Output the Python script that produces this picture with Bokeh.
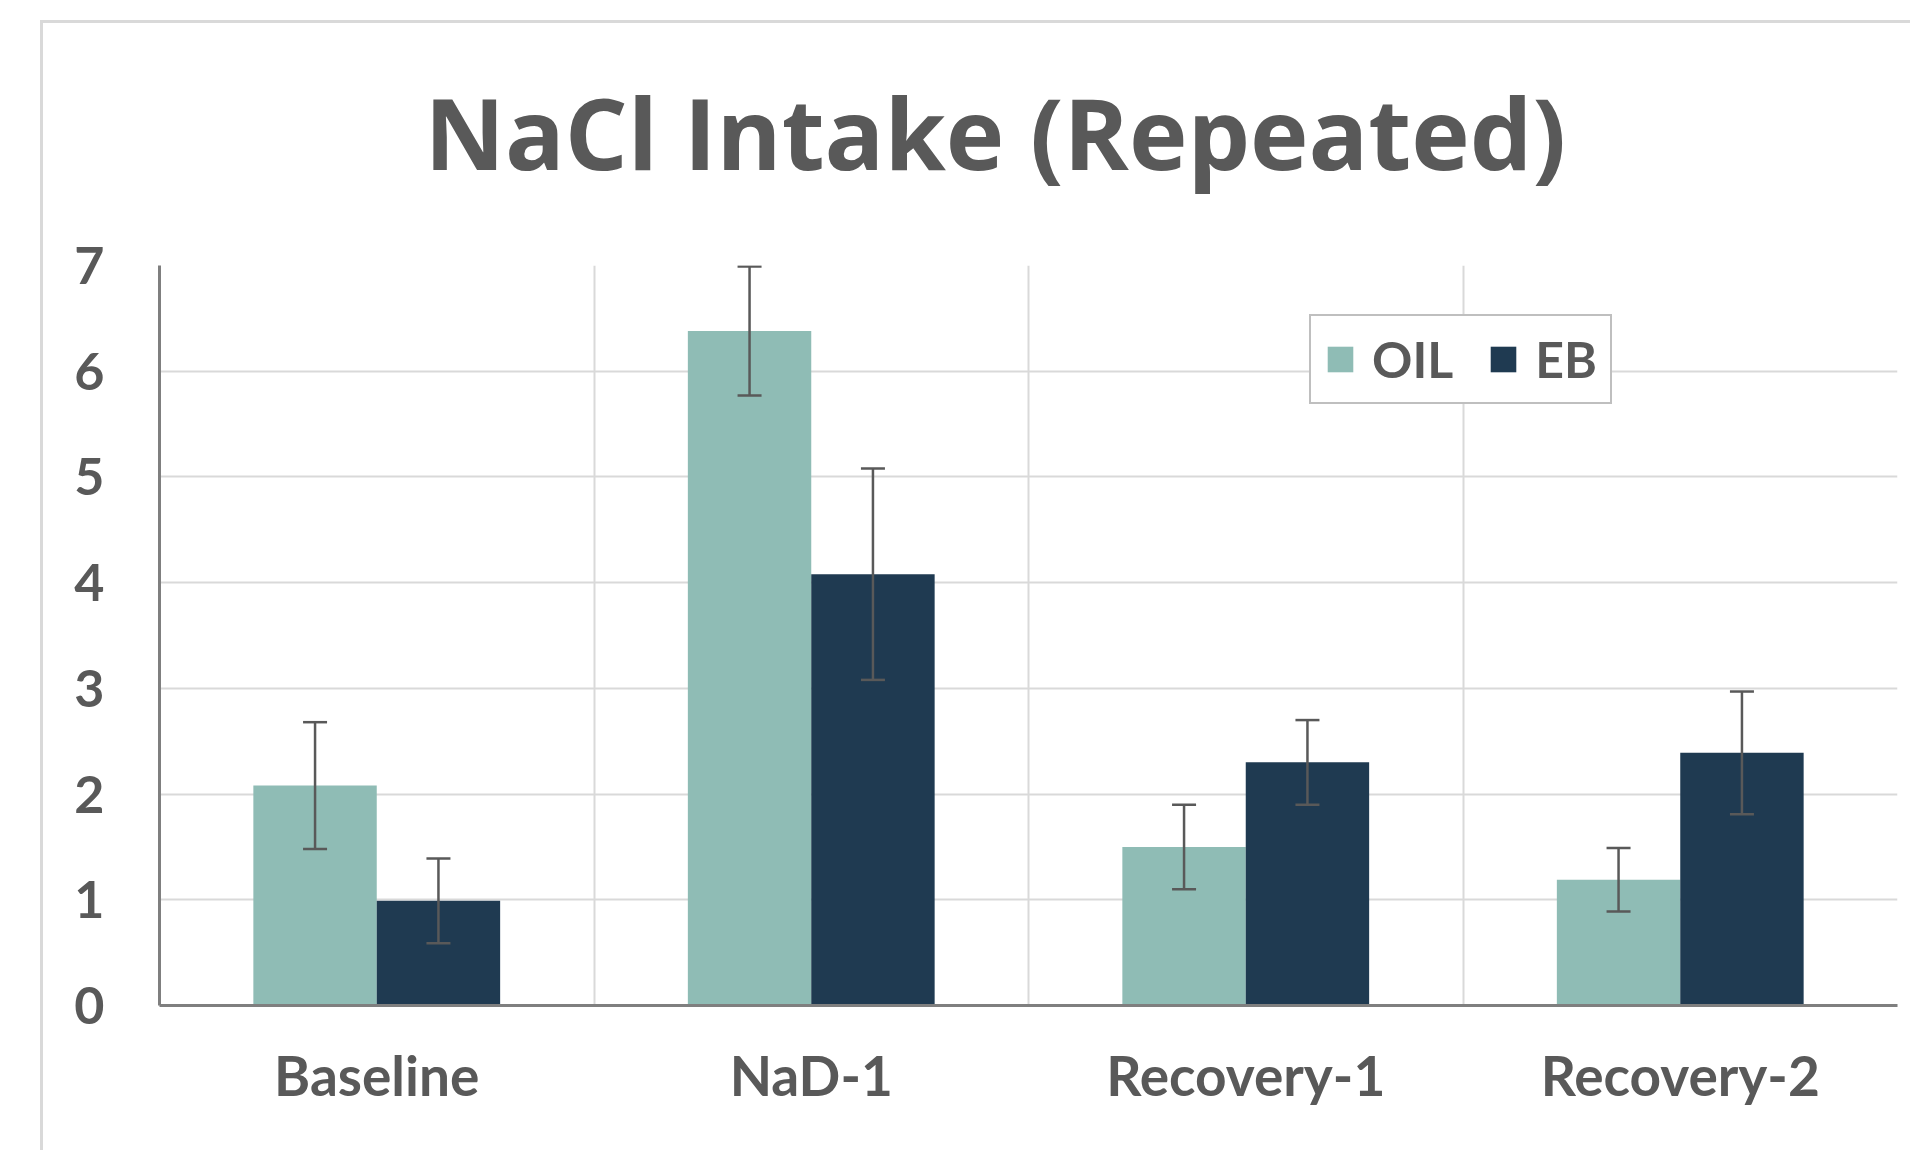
from bokeh.plotting import figure
from bokeh.models import (ColumnDataSource, Range1d, FixedTicker, Title,
                          Whisker, TeeHead, Legend, LegendItem)
from bokeh.embed import file_html
from bokeh.resources import INLINE
import numpy as np

# ---- data ----
categories = ["Baseline", "NaD-1", "Recovery-1", "Recovery-2"]
series_names = ["OIL", "EB"]
oil_mean = [2.08, 6.38, 1.50, 1.19]
oil_err = [0.60, 0.61, 0.40, 0.30]
eb_mean = [0.99, 4.08, 2.30, 2.39]
eb_err = [0.40, 1.00, 0.40, 0.58]
y_ticks = [0, 1, 2, 3, 4, 5, 6, 7]
title_text = "NaCl Intake (Repeated)"

FONT = "Lato"
TITLE_FONT = "Open Sans"
TEXT = "#595959"
OIL_C = "#8FBCB5"
EB_C = "#1F3A51"
GRID = "#d9d9d9"
AXIS = "#7f7f7f"

W, H = 1870, 1130
p = figure(width=W, height=H, output_backend="svg", toolbar_location=None,
           x_range=Range1d(0, len(categories)), y_range=Range1d(y_ticks[0], y_ticks[-1]),
           min_border_left=116, min_border_right=16, min_border_top=242,
           min_border_bottom=148)
p.margin = (20, 0, 0, 40)
p.styles = {"border-left": "3px solid #d9d9d9", "border-top": "3px solid #d9d9d9"}
p.outline_line_color = None
p.background_fill_color = "white"
p.border_fill_color = "white"

p.title.text = title_text
p.title.align = "left"
p.title.text_font = TITLE_FONT
p.title.text_font_style = "bold"
p.title.text_font_size = "99px"
p.title.text_color = TEXT
p.title.offset = 265
p.title.standoff = 13

# empty spacer between the title and the plot area
spacer = Title(text=" ", text_font_size="1px", standoff=57)
p.add_layout(spacer, "above")

idx = np.arange(len(categories))
centers = idx + 0.5
bar_w = 0.284
oil_x = centers - bar_w / 2
eb_x = centers + bar_w / 2

oil_src = ColumnDataSource(dict(x=oil_x, top=oil_mean,
                                upper=np.array(oil_mean) + np.array(oil_err),
                                lower=np.array(oil_mean) - np.array(oil_err)))
eb_src = ColumnDataSource(dict(x=eb_x, top=eb_mean,
                               upper=np.array(eb_mean) + np.array(eb_err),
                               lower=np.array(eb_mean) - np.array(eb_err)))

r_oil = p.vbar(x="x", top="top", width=bar_w, source=oil_src,
               fill_color=OIL_C, line_color=None)
r_eb = p.vbar(x="x", top="top", width=bar_w, source=eb_src,
              fill_color=EB_C, line_color=None)

for src in (oil_src, eb_src):
    w = Whisker(base="x", upper="upper", lower="lower", source=src,
                line_color=TEXT, line_width=2.5, level="annotation",
                upper_head=TeeHead(size=24, line_color=TEXT, line_width=2.5),
                lower_head=TeeHead(size=24, line_color=TEXT, line_width=2.5))
    p.add_layout(w)

# grids
p.xgrid.ticker = FixedTicker(ticks=list(range(len(categories) + 1)))
p.ygrid.ticker = FixedTicker(ticks=y_ticks)
for g in (p.xgrid, p.ygrid):
    g.grid_line_color = GRID
    g.grid_line_width = 2

# axes
p.xaxis.ticker = FixedTicker(ticks=list(centers))
p.xaxis.major_label_overrides = {float(c): cat for c, cat in zip(centers, categories)}
p.yaxis.ticker = FixedTicker(ticks=y_ticks)
for ax in (p.xaxis, p.yaxis):
    ax.axis_line_color = AXIS
    ax.axis_line_width = 3
    ax.major_tick_line_color = None
    ax.minor_tick_line_color = None
    ax.major_tick_out = 0
    ax.major_tick_in = 0
    ax.major_label_text_font = FONT
    ax.major_label_text_font_style = "bold"
    ax.major_label_text_color = TEXT
p.xaxis.major_label_text_font_size = "55px"
p.yaxis.major_label_text_font_size = "52px"
p.xaxis.major_label_standoff = 36
p.yaxis.major_label_standoff = 55

# legend
legend = Legend(items=[LegendItem(label=series_names[0], renderers=[r_oil]),
                       LegendItem(label=series_names[1], renderers=[r_eb])],
                orientation="horizontal", location=(1150, 601),
                label_text_font=FONT, label_text_font_style="bold",
                label_text_font_size="50px", label_text_color=TEXT,
                glyph_width=32, glyph_height=32, label_standoff=16, spacing=34,
                padding=13, margin=0, border_line_color=AXIS, border_line_width=2.5,
                background_fill_color="white", background_fill_alpha=1.0)
p.add_layout(legend)

open("out.html", "w").write(file_html(p, INLINE))
